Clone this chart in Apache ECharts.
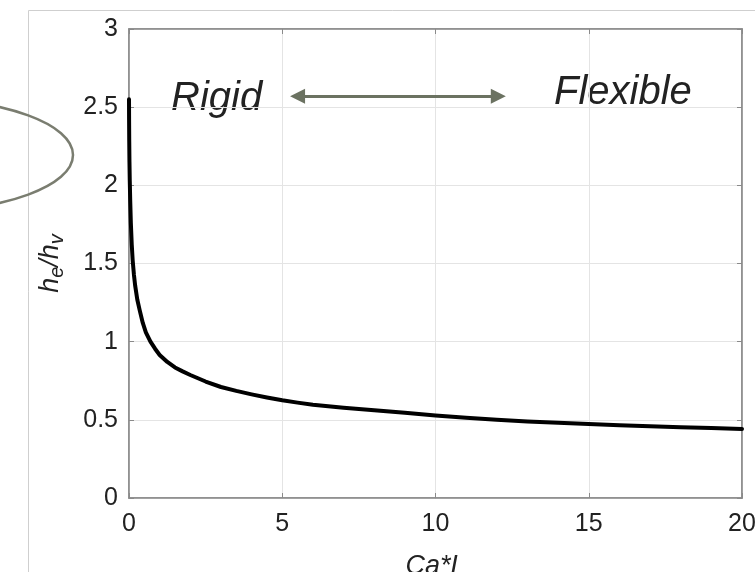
<!DOCTYPE html>
<html>
<head>
<meta charset="utf-8">
<script src="https://cdn.jsdelivr.net/npm/echarts@6/dist/echarts.min.js"></script>
<style>
html,body{margin:0;padding:0;background:#fff;}
#chart{width:755px;height:572px;}
</style>
</head>
<body>
<div id="chart"></div>
<script>
// Data
var caL = [0, 0.003, 0.008, 0.015, 0.025, 0.04, 0.06, 0.09, 0.12, 0.16, 0.2, 0.27, 0.35, 0.45, 0.55, 0.7, 0.85, 1.0, 1.25, 1.5, 1.75, 2.0, 2.5, 3.0, 3.5, 4.0, 4.5, 5, 5.5, 6, 7, 8, 9, 10, 11, 12, 13, 14, 15, 16, 17, 18, 19, 20];
var ratio = [2.55, 2.42, 2.28, 2.15, 2.03, 1.9, 1.76, 1.62, 1.52, 1.43, 1.36, 1.27, 1.2, 1.12, 1.06, 1.0, 0.955, 0.915, 0.87, 0.835, 0.81, 0.787, 0.745, 0.71, 0.685, 0.663, 0.643, 0.625, 0.61, 0.597, 0.578, 0.562, 0.545, 0.528, 0.513, 0.5, 0.49, 0.481, 0.473, 0.466, 0.459, 0.453, 0.447, 0.442];
var xTicks = [0, 5, 10, 15, 20];
var yTicks = [0, 0.5, 1, 1.5, 2, 2.5, 3];
var arrowX = [5.5, 12.05];
var arrowY = 2.57;
var labelRigid = 'Rigid';
var labelFlexible = 'Flexible';

var points = caL.map(function (x, i) { return [x, ratio[i]]; });
var FONT = '"Liberation Sans", Arial, sans-serif';
var TXT = '#222222';
var AXC = '#8a8a8a';
var tickStyle = {show: true, inside: true, length: 5, lineStyle: {color: AXC, width: 1}};

var chart = echarts.init(document.getElementById('chart'), null, {renderer: 'canvas'});
chart.setOption({
  animation: false,
  backgroundColor: '#ffffff',
  grid: {left: 129, right: 13, top: 29, bottom: 74, show: true, borderColor: AXC, borderWidth: 1.5, containLabel: false, outerBoundsMode: 'none'},
  xAxis: [{
    type: 'value', min: 0, max: 20, interval: 5, position: 'bottom',
    name: 'Ca*L', nameLocation: 'middle', nameGap: 55,
    nameTextStyle: {fontFamily: FONT, fontSize: 27, fontStyle: 'italic', color: TXT},
    axisLine: {show: true, onZero: false, lineStyle: {color: AXC, width: 1.5}},
    axisTick: tickStyle,
    axisLabel: {fontFamily: FONT, fontSize: 25, color: TXT, margin: 14},
    splitLine: {show: true, lineStyle: {color: '#e4e4e4', width: 1}}
  }, {
    type: 'value', min: 0, max: 20, interval: 5, position: 'top',
    axisLine: {show: true, onZero: false, lineStyle: {color: AXC, width: 1.5}},
    axisTick: tickStyle,
    axisLabel: {show: false}, splitLine: {show: false}
  }],
  yAxis: [{
    type: 'value', min: 0, max: 3, interval: 0.5, position: 'left',
    name: '{i|h}{s|e}{i|/h}{s|v}', nameLocation: 'middle', nameGap: 62,
    nameTextStyle: {
      fontFamily: FONT, color: TXT,
      rich: {
        i: {fontFamily: FONT, fontSize: 27, fontStyle: 'italic', color: TXT, lineHeight: 34, verticalAlign: 'middle'},
        s: {fontFamily: FONT, fontSize: 20, fontStyle: 'italic', color: TXT, lineHeight: 20, verticalAlign: 'bottom'}
      }
    },
    axisLine: {show: true, onZero: false, lineStyle: {color: AXC, width: 1.5}},
    axisTick: tickStyle,
    axisLabel: {fontFamily: FONT, fontSize: 25, color: TXT, margin: 11},
    splitLine: {show: true, lineStyle: {color: '#e4e4e4', width: 1}}
  }, {
    type: 'value', min: 0, max: 3, interval: 0.5, position: 'right',
    axisLine: {show: true, onZero: false, lineStyle: {color: AXC, width: 1.5}},
    axisTick: tickStyle,
    axisLabel: {show: false}, splitLine: {show: false}
  }],
  series: [{
    type: 'line',
    data: points,
    showSymbol: false,
    smooth: false,
    lineStyle: {color: '#000000', width: 4, join: 'round', cap: 'round'},
    z: 5,
    markLine: {
      silent: true,
      symbol: ['triangle', 'triangle'],
      symbolSize: [15, 15],
      label: {show: false},
      lineStyle: {color: '#6b7261', width: 3, type: 'solid'},
      itemStyle: {color: '#6b7261'},
      data: [[{coord: [arrowX[0], arrowY]}, {coord: [arrowX[1], arrowY]}]]
    }
  }],
  graphic: [
    {type: 'rect', left: 26, top: 8, shape: {x: 0, y: 0, width: 760, height: 600}, style: {fill: 'none', stroke: '#cfcfcf', lineWidth: 1}, silent: true, z: -1},
    {type: 'ellipse', shape: {cx: -80, cy: 155, rx: 153, ry: 56}, style: {fill: 'none', stroke: '#7a7d70', lineWidth: 2.5}, silent: true},
    {type: 'text', left: 171, top: 79, style: {text: labelRigid, font: 'italic 40px "Liberation Sans", Arial, sans-serif', fill: TXT}},
    {type: 'text', left: 554, top: 73, style: {text: labelFlexible, font: 'italic 40px "Liberation Sans", Arial, sans-serif', fill: TXT}}
  ]
});
</script>
</body>
</html>
